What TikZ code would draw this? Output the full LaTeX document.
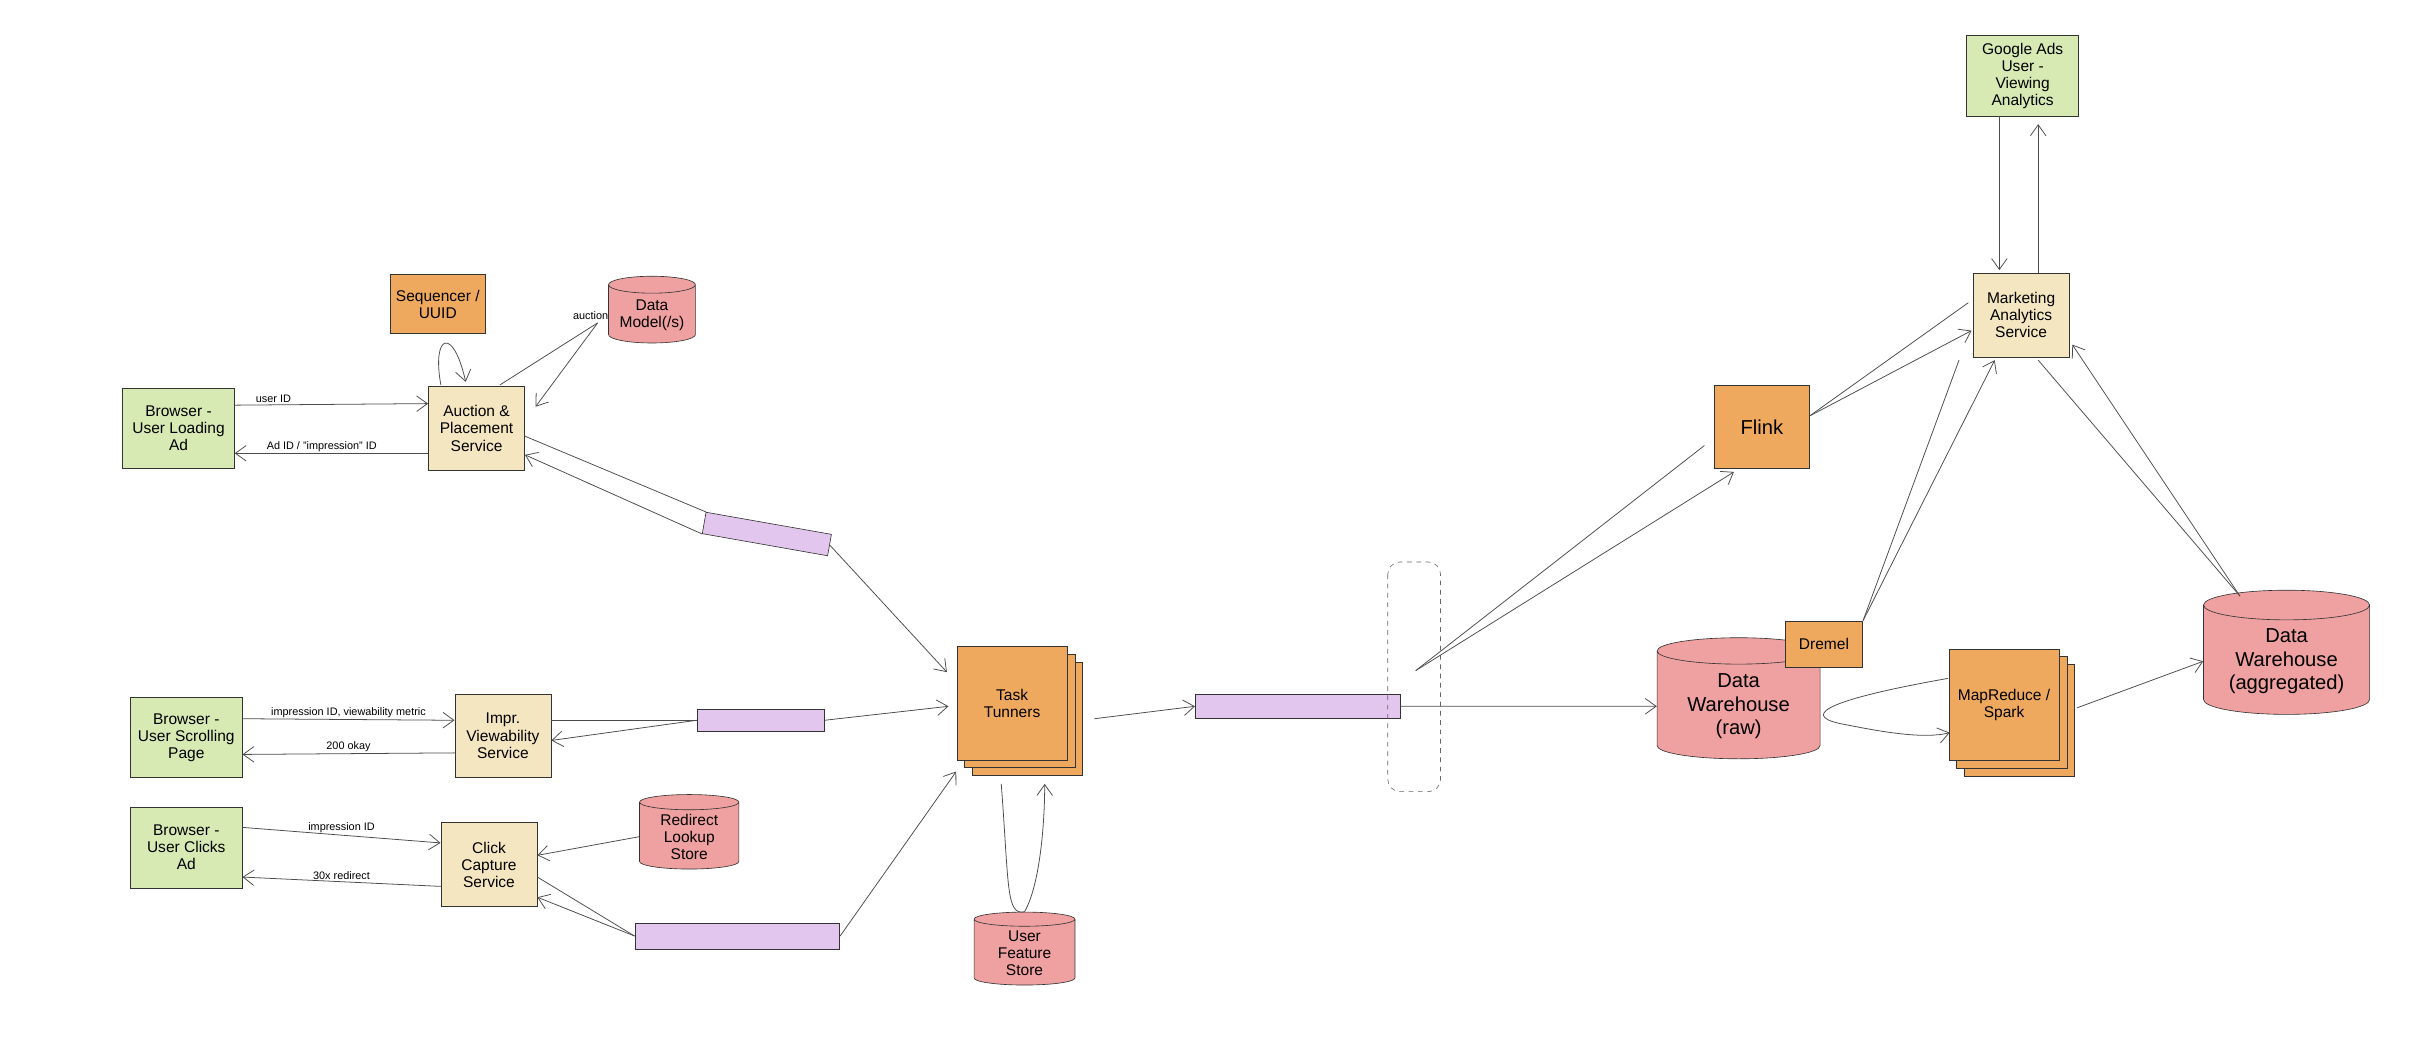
\documentclass[tikz,border=0pt]{standalone}
\usepackage{fontspec}
\setmainfont{Liberation Sans}
\usetikzlibrary{shapes.geometric,shadows,arrows.meta}
\definecolor{usergreen}{HTML}{D7EAB4}
\definecolor{svctan}{HTML}{F4E6C1}
\definecolor{procorange}{HTML}{EFA95F}
\definecolor{storepink}{HTML}{EFA0A0}
\definecolor{queuepurple}{HTML}{E3C6EE}
\tikzset{
  box/.style={draw=black!80, align=center, inner sep=1pt, font=\fontsize{10}{11}\selectfont},
  client/.style={box, fill=usergreen, minimum width=72, minimum height=52},
  service/.style={box, fill=svctan, minimum width=62, minimum height=54},
  worker/.style={box, fill=procorange},
  store/.style={box, cylinder, shape border rotate=90, aspect=0.25, fill=storepink},
  queue/.style={draw=black!80, fill=queuepurple, minimum height=14, inner sep=0pt},
  flow/.style={draw=black!70, line width=0.5pt, -{Straight Barb[length=7pt,width=10pt]}},
  plain/.style={draw=black!70, line width=0.5pt},
  tag/.style={font=\fontsize{7}{8}\selectfont, inner sep=1pt}
}
\begin{document}
\begin{tikzpicture}[x=1pt,y=-1pt]
  \useasboundingbox (0,0) rectangle (1568,670);
  % clients
  \node[client] (load) at (115,276) {Browser -\\User Loading\\Ad};
  \node[client] (scroll) at (120,475) {Browser -\\User Scrolling\\Page};
  \node[client] (click) at (120,546) {Browser -\\User Clicks\\Ad};
  % services
  \node[service] (auction) at (307,276) {Auction \&\\Placement\\Service};
  \node[service] (impr) at (324,474) {Impr.\\Viewability\\Service};
  \node[service] (capture) at (315,557) {Click\\Capture\\Service};
  \node[worker, minimum width=61, minimum height=38] (seq) at (282,196) {Sequencer /\\UUID};
  \node[store, minimum width=56, minimum height=43] (model) at (420,203) {Data\\Model(/s)};
  \node[store, minimum width=64, minimum height=48] (redirect) at (444,539) {Redirect\\Lookup\\Store};
  % queues
  \node[queue, minimum width=82, rotate=-10] (q1) at (494,344) {};
  \node[queue, minimum width=82] (q2) at (490,464) {};
  \node[queue, minimum width=132, minimum height=17] (q3) at (475,603) {};
  \node[queue, minimum width=132, minimum height=16] (q4) at (836,455) {};
  % processing
  \node[worker, minimum width=71, minimum height=73, double copy shadow={shadow xshift=5pt, shadow yshift=-5pt, draw=black!80}] (task) at (652,453) {Task\\Tunners};
  \node[store, minimum width=65, minimum height=47] (feature) at (660,614) {User\\Feature\\Store};
  \draw[black!60, dashed, rounded corners=8] (894,362) rectangle (928,510);
  \node[worker, minimum width=61, minimum height=53, font=\fontsize{13}{15}\selectfont] (flink) at (1135,275) {Flink};
  \node[service] (mkt) at (1302,203) {Marketing\\Analytics\\Service};
  \node[client] (gads) at (1303,49) {Google Ads\\User -\\Viewing\\Analytics};
  \node[store, minimum width=105, minimum height=78, font=\fontsize{13}{15}\selectfont] (raw) at (1120,455) {Data\\Warehouse\\(raw)};
  \node[worker, minimum width=50, minimum height=30] (dremel) at (1175,415) {Dremel};
  \node[worker, minimum width=71, minimum height=72, double copy shadow={shadow xshift=5pt, shadow yshift=-5pt, draw=black!80}] (mr) at (1291,454) {MapReduce /\\Spark};
  \node[store, minimum width=107, minimum height=80, font=\fontsize{13}{15}\selectfont] (agg) at (1473,426) {Data\\Warehouse\\(aggregated)};
  % left side connectors
  \draw[flow] (load.east |- 0,261) -- node[tag, above, pos=0.2] {user ID} (auction.west |- 0,260);
  \draw[flow] (auction.west |- 0,292) -- node[tag, above, pos=0.55] {Ad ID / "impression" ID} (load.east |- 0,292);
  \draw[flow] (284,248) .. controls (278,215) and (292,210) .. (300,246);
  \coordinate (loop) at (385,208);
  \node[tag, left] (auctag) at (393,203) {auction};
  \draw[plain] (322,248) -- (loop);
  \draw[flow] (loop) -- (345,262);
  \draw[plain] (auction.east |- 0,281) -- (q1.north west);
  \draw[flow] (q1.south west) -- (auction.east |- 0,293);
  \draw[flow] (q1.east) -- (610,433);
  \draw[flow] (scroll.east |- 0,463) -- node[tag, above] {impression ID, viewability metric} (impr.west |- 0,464);
  \draw[flow] (impr.west |- 0,485) -- node[tag, above] {200 okay} (scroll.east |- 0,486);
  \draw[plain] (impr.east |- 0,464) -- (q2.west);
  \draw[flow] (q2.west) -- (impr.east |- 0,477);
  \draw[flow] (q2.east) -- (611,455);
  \draw[flow] (click.east |- 0,533) -- node[tag, above, pos=0.5] {impression ID} (capture.west |- 0,543);
  \draw[flow] (capture.west |- 0,571) -- node[tag, above] {30x redirect} (click.east |- 0,565);
  \draw[flow] (redirect.west) -- (capture.east |- 0,551);
  \draw[plain] (capture.east |- 0,565) -- (q3.west);
  \draw[flow] (q3.west) -- (capture.east |- 0,578);
  \draw[flow] (q3.east) -- (616,497);
  \draw[plain] (645,505) .. controls (650,570) and (648,590) .. (feature.north);
  \draw[flow] (feature.north) .. controls (670,570) and (673,530) .. (673,505);
  \draw[flow] (705,463) -- (q4.west);
  \draw[flow] (q4.east) -- (raw.west);
  % right side connectors
  \coordinate (fan) at (912,432);
  \draw[plain] (fan) -- (1098,287);
  \draw[flow] (fan) -- (1117,304);
  \draw[plain] (flink.east |- 0,268) -- (1268,195);
  \draw[flow] (flink.east |- 0,268) -- (1270,213);
  \draw[plain] (dremel.north east) -- (1262,232);
  \draw[flow] (dremel.north east) -- (1285,232);
  \coordinate (aggtop) at (1443,384);
  \draw[plain] (aggtop) -- (1313,232);
  \draw[flow] (aggtop) -- (1335,222);
  \draw[flow] (1288,75) -- (1288,174);
  \draw[flow] (1313,176) -- (1313,80);
  \draw[plain] (1255,437) .. controls (1170,452) and (1160,462) .. (1190,467);
  \draw[flow] (1190,467) .. controls (1215,472) and (1240,476) .. (1256,472);
  \draw[flow] (1338,456) -- (agg.west);
\end{tikzpicture}
\end{document}
